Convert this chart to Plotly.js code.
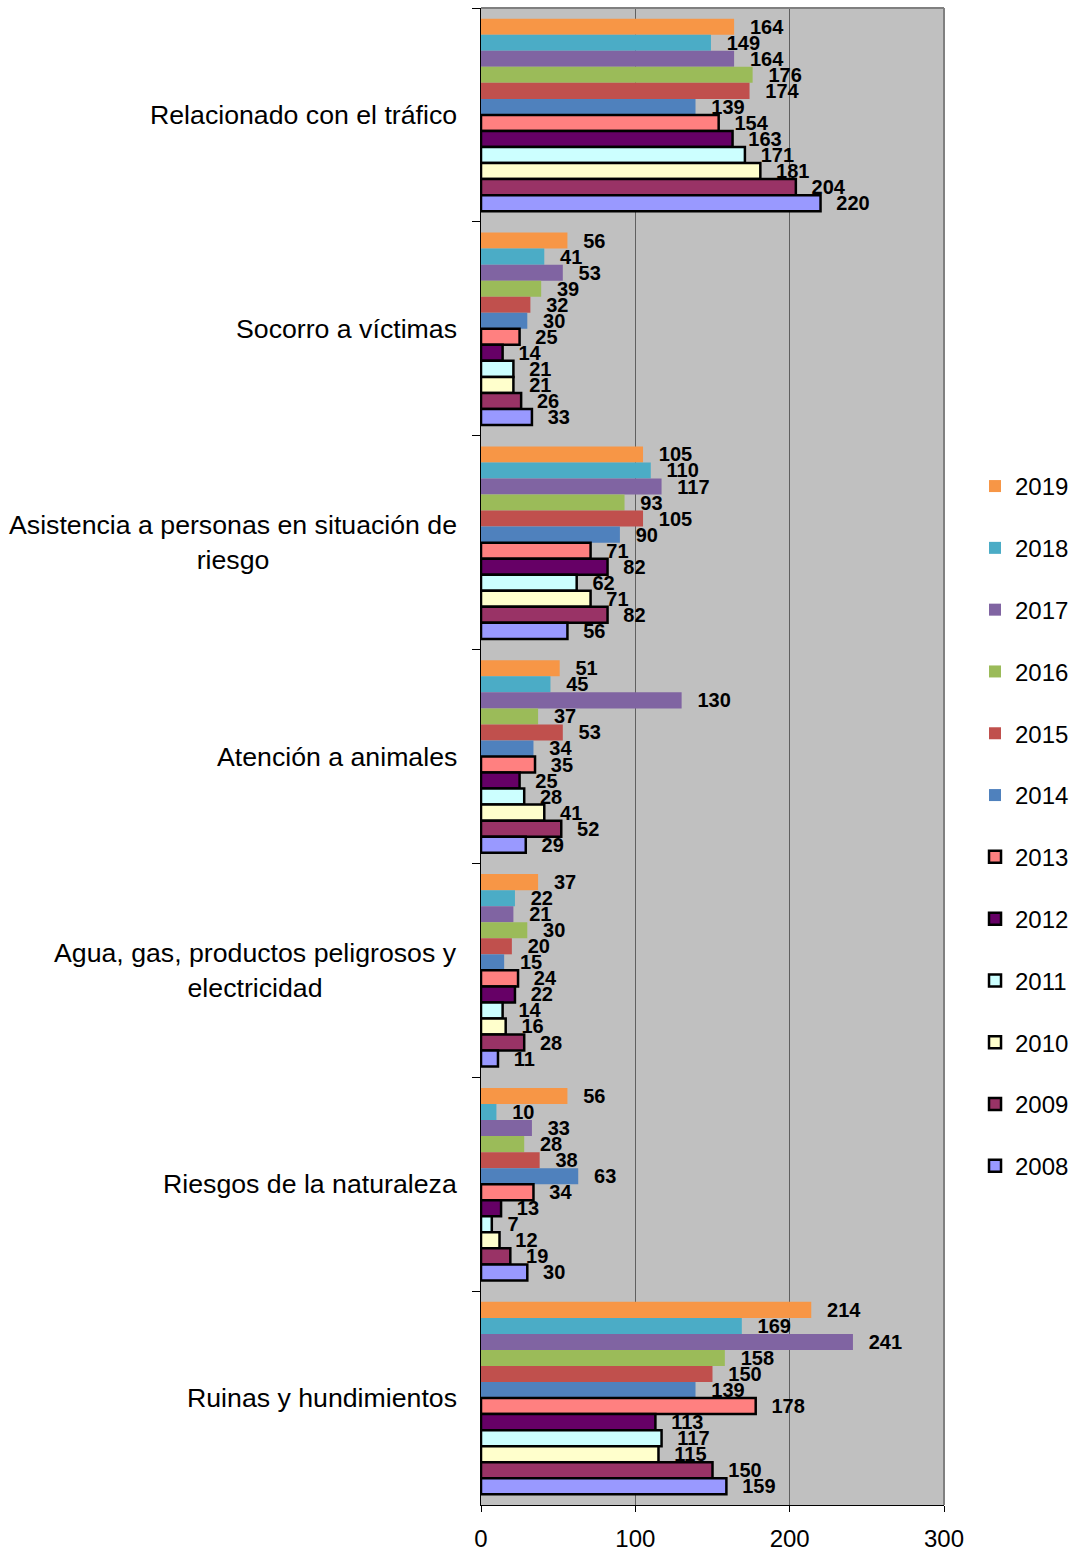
<!DOCTYPE html>
<html>
<head>
<meta charset="utf-8">
<script src="https://cdn.plot.ly/plotly-3.0.1.min.js"></script>
<style>html,body{margin:0;padding:0;background:#fff;}</style>
</head>
<body>
<div id="chart" style="width:1077px;height:1553px;"></div>
<script>
const categories = [
  'Relacionado con el tráfico',
  'Socorro a víctimas',
  'Asistencia a personas en situación de riesgo',
  'Atención a animales',
  'Agua, gas, productos peligrosos y electricidad',
  'Riesgos de la naturaleza',
  'Ruinas y hundimientos'
];
const categoryLabels = [
  'Relacionado con el tráfico',
  'Socorro a víctimas',
  'Asistencia a personas en situación de<br>riesgo',
  'Atención a animales',
  'Agua, gas, productos peligrosos y<br>electricidad',
  'Riesgos de la naturaleza',
  'Ruinas y hundimientos'
];
const years = ['2019','2018','2017','2016','2015','2014','2013','2012','2011','2010','2009','2008'];

const v2019 = [164, 56, 105, 51, 37, 56, 214];
const v2018 = [149, 41, 110, 45, 22, 10, 169];
const v2017 = [164, 53, 117, 130, 21, 33, 241];
const v2016 = [176, 39, 93, 37, 30, 28, 158];
const v2015 = [174, 32, 105, 53, 20, 38, 150];
const v2014 = [139, 30, 90, 34, 15, 63, 139];
const v2013 = [154, 25, 71, 35, 24, 34, 178];
const v2012 = [163, 14, 82, 25, 22, 13, 113];
const v2011 = [171, 21, 62, 28, 14, 7, 117];
const v2010 = [181, 21, 71, 41, 16, 12, 115];
const v2009 = [204, 26, 82, 52, 28, 19, 150];
const v2008 = [220, 33, 56, 29, 11, 30, 159];

const seriesValues = [v2019, v2018, v2017, v2016, v2015, v2014, v2013, v2012, v2011, v2010, v2009, v2008];
const colors = ['#F79646','#4BACC6','#8064A2','#9BBB59','#C0504D','#4F81BD','#FF8080','#660066','#CCFFFF','#FFFFCC','#993366','#9999FF'];
const bordered = [false,false,false,false,false,false,true,true,true,true,true,true];

const FONT = 'Liberation Sans, Arial, sans-serif';

const traces = years.map((yr, i) => ({
  type: 'bar',
  orientation: 'h',
  name: yr,
  legendgroup: yr,
  y: categories,
  x: seriesValues[i],
  marker: {
    color: colors[i],
    line: {color: '#000000', width: bordered[i] ? 2.5 : 0}
  },
  texttemplate: '\u00a0\u00a0\u200a%{x}',
  textposition: 'outside',
  constraintext: 'none',
  cliponaxis: false,
  textfont: {family: FONT, size: 20, color: '#000000', weight: 'bold'},
  hoverinfo: 'skip'
}));

const annotations = categories.map((c, i) => ({
  xref: 'paper', yref: 'y',
  x: 0, y: c,
  xanchor: 'right', yanchor: 'middle',
  xshift: -22,
  align: 'center',
  showarrow: false,
  text: categoryLabels[i],
  font: {family: FONT, size: 26.7, color: '#000000'}
}));

const layout = {
  width: 1077,
  height: 1553,
  margin: {l: 481, r: 133, t: 8, b: 48, pad: 0, autoexpand: false},
  paper_bgcolor: '#ffffff',
  plot_bgcolor: '#C0C0C0',
  barmode: 'group',
  bargap: 0.1,
  bargroupgap: 0,
  font: {family: FONT, color: '#000000'},
  showlegend: true,
  legend: {
    x: 1.067, xanchor: 'left',
    y: 0.4536, yanchor: 'middle',
    traceorder: 'grouped',
    tracegroupgap: 27.6,
    font: {family: FONT, size: 24, color: '#000000'},
    bgcolor: 'rgba(0,0,0,0)'
  },
  xaxis: {
    range: [0, 300],
    tickvals: [0, 100, 200, 300],
    ticktext: ['0', '100', '200', '300'],
    showgrid: true,
    gridcolor: '#606060',
    gridwidth: 1,
    zeroline: false,
    showline: true,
    linecolor: '#000000',
    linewidth: 1,
    ticks: 'outside',
    ticklen: 6,
    tickcolor: '#000000',
    ticklabelstandoff: 6,
    tickfont: {family: FONT, size: 24, color: '#000000'},
    fixedrange: true
  },
  yaxis: {
    type: 'category',
    autorange: 'reversed',
    showticklabels: false,
    ticks: 'outside',
    tickson: 'boundaries',
    ticklen: 8,
    tickcolor: '#000000',
    showline: true,
    linecolor: '#000000',
    linewidth: 1,
    showgrid: false,
    zeroline: false,
    fixedrange: true
  },
  shapes: [
    {type: 'line', xref: 'paper', yref: 'paper', x0: 0, x1: 1, y0: 1, y1: 1, line: {color: '#808080', width: 2}},
    {type: 'line', xref: 'paper', yref: 'paper', x0: 1, x1: 1, y0: 0, y1: 1, line: {color: '#808080', width: 2}}
  ],
  annotations: annotations
};

Plotly.newPlot('chart', traces, layout, {displayModeBar: false, staticPlot: true});
</script>
</body>
</html>
